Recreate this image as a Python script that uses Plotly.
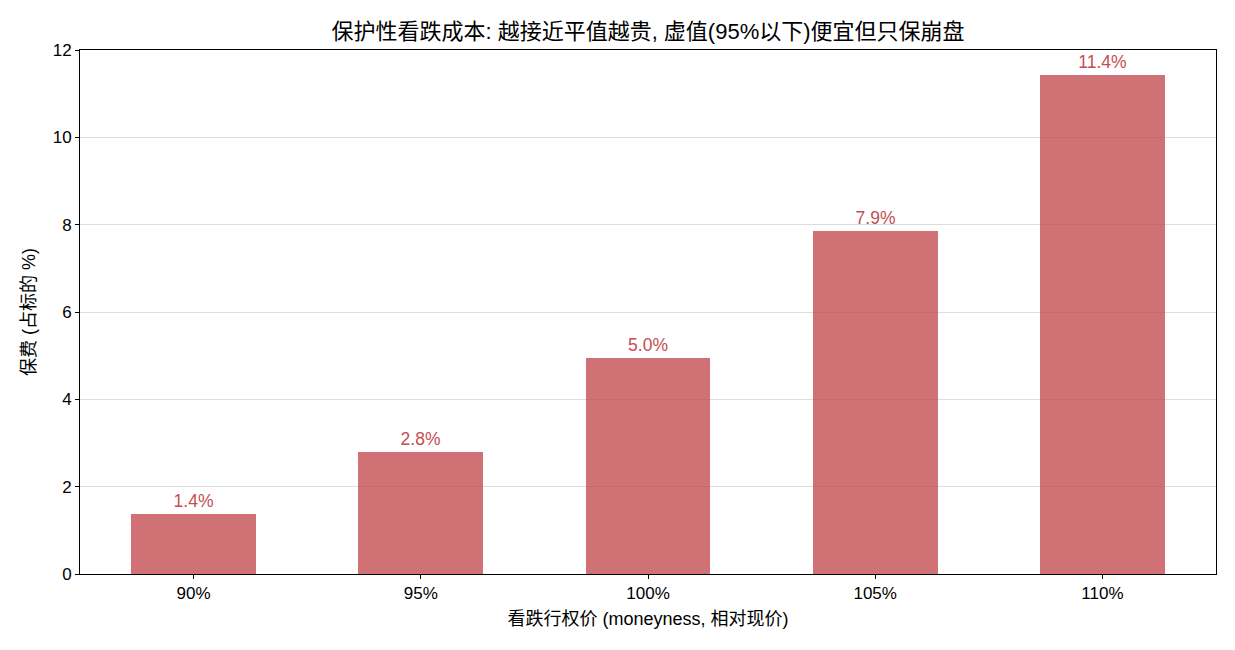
import plotly.graph_objects as go

categories = ["90%", "95%", "100%", "105%", "110%"]
premium = [1.37, 2.79, 4.95, 7.86, 11.43]
y_ticks = [0, 2, 4, 6, 8, 10, 12]

FONT = "Liberation Sans, Arial, Noto Sans CJK SC, sans-serif"
BAR = "rgba(196,78,82,0.8)"
LABEL = "#C44E52"

fig = go.Figure()
fig.add_trace(go.Bar(
    x=list(range(len(categories))),
    y=premium,
    width=0.55,
    marker=dict(color=BAR, line=dict(width=0)),
    text=[f"{v:.1f}%" for v in premium],
    textposition="outside",
    textfont=dict(color=LABEL, size=17.5, family=FONT),
    cliponaxis=False,
    hoverinfo="skip",
))

fig.update_layout(
    width=1235, height=650,
    margin=dict(l=80, r=19, t=50, b=76),
    paper_bgcolor="white", plot_bgcolor="white",
    font=dict(family=FONT, size=17, color="black"),
    title=dict(text="保护性看跌成本: 越接近平值越贵, 虚值(95%以下)便宜但只保崩盘",
               xref="paper", x=0.5, xanchor="center", y=1 - 31/650, yanchor="middle",
               font=dict(size=22, family=FONT)),
    showlegend=False,
    bargap=0,
)
fig.update_xaxes(
    range=[-0.5, 4.5],
    tickvals=list(range(len(categories))), ticktext=categories,
    ticks="outside", ticklen=4, tickcolor="black",
    showgrid=False, showline=True, linecolor="black", linewidth=1, mirror=True,
    title=dict(text="看跌行权价 (moneyness, 相对现价)", standoff=9, font=dict(size=18)),
    tickfont=dict(size=17),
)
fig.update_yaxes(
    range=[0, 12], tickvals=y_ticks,
    ticks="outside", ticklen=4, tickcolor="black",
    showgrid=True, gridcolor="#DDDDDD", gridwidth=1,
    showline=True, linecolor="black", linewidth=1, mirror=True,
    zeroline=False,
    title=dict(text="保费 (占标的 %)", standoff=12, font=dict(size=18)),
    tickfont=dict(size=17),
)

fig.write_html("out.html")
